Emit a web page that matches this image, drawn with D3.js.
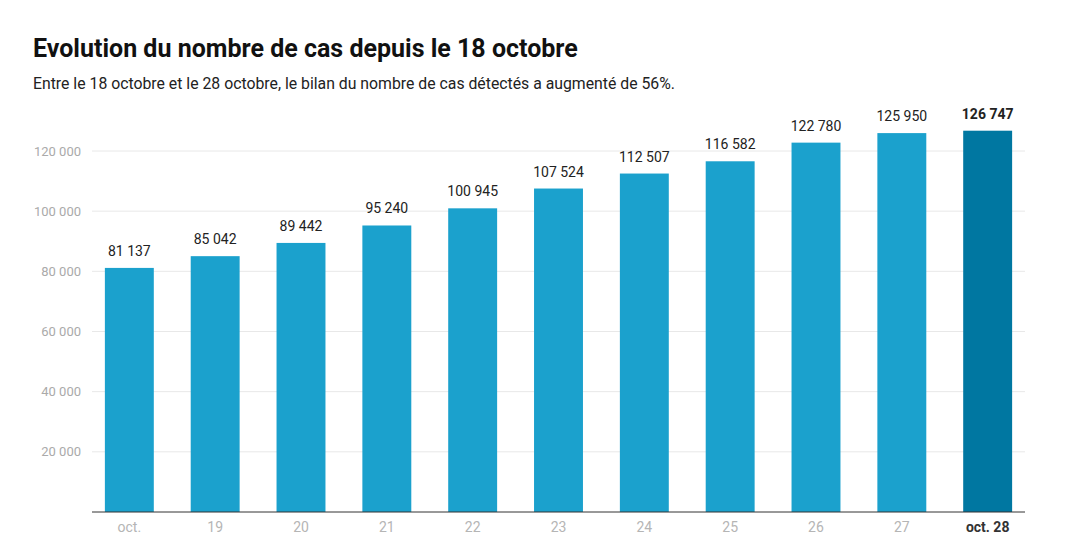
<!DOCTYPE html>
<html>
<head>
<meta charset="utf-8">
<script src="https://cdn.jsdelivr.net/npm/d3@7"></script>
<style>
  body { margin: 0; background: #fff; font-family: Roboto, sans-serif; }
  .title { font-size: 25px; font-weight: 700; fill: #111; }
  .subtitle { font-size: 15.8px; fill: #222; }
  .tick-y text { fill: #aaa; font-size: 13px; }
</style>
</head>
<body>
<div id="chart"></div>
<script>
const days = ["oct.", "19", "20", "21", "22", "23", "24", "25", "26", "27", "oct. 28"];
const cases = [81137, 85042, 89442, 95240, 100945, 107524, 112507, 116582, 122780, 125950, 126747];
const yTicks = [20000, 40000, 60000, 80000, 100000, 120000];

const width = 1072, height = 557;
const margin = {top: 120, right: 47, bottom: 45, left: 92};

const fr = d3.formatLocale({decimal: ",", thousands: " ", grouping: [3], currency: ["", " €"]});
const fmt = fr.format(",d");

const svg = d3.select("#chart").append("svg")
    .attr("width", width)
    .attr("height", height);

svg.append("text").attr("class", "title").attr("x", 33).attr("y", 57)
    .text("Evolution du nombre de cas depuis le 18 octobre");
svg.append("text").attr("class", "subtitle").attr("x", 33).attr("y", 89)
    .text("Entre le 18 octobre et le 28 octobre, le bilan du nombre de cas détectés a augmenté de 56%.");

const x = d3.scaleBand()
    .domain(days)
    .range([margin.left, width - margin.right])
    .paddingInner(0.43)
    .paddingOuter(0.15);

const y = d3.scaleLinear()
    .domain([0, 120000])
    .range([height - margin.bottom, 151]);

// gridlines + y labels
const gy = svg.append("g").selectAll("g")
    .data(yTicks)
  .join("g")
    .attr("class", "tick-y")
    .attr("transform", d => `translate(0,${y(d)})`);
gy.append("line")
    .attr("x1", margin.left).attr("x2", width - margin.right)
    .attr("stroke", "#e8e8e8");
gy.append("text")
    .attr("x", 81).attr("dy", "0.35em")
    .attr("text-anchor", "end")
    .text(d => fmt(d));

// bars
const last = days.length - 1;
svg.append("g").selectAll("rect")
    .data(cases)
  .join("rect")
    .attr("x", (d, i) => x(days[i]))
    .attr("width", x.bandwidth())
    .attr("y", d => y(d))
    .attr("height", d => y(0) - y(d))
    .attr("fill", (d, i) => i === last ? "#0077a1" : "#1ba1cd");

// value labels
svg.append("g").selectAll("text")
    .data(cases)
  .join("text")
    .attr("x", (d, i) => x(days[i]) + x.bandwidth() / 2)
    .attr("y", d => y(d) - 12)
    .attr("text-anchor", "middle")
    .attr("font-size", 14)
    .attr("font-weight", (d, i) => i === last ? 700 : 400)
    .attr("fill", "#222")
    .text(d => fmt(d));

// x axis
svg.append("line")
    .attr("x1", margin.left).attr("x2", width - margin.right)
    .attr("y1", y(0)).attr("y2", y(0))
    .attr("stroke", "#333");

svg.append("g").selectAll("text")
    .data(days)
  .join("text")
    .attr("x", d => x(d) + x.bandwidth() / 2)
    .attr("y", y(0) + 20)
    .attr("text-anchor", "middle")
    .attr("font-size", 14)
    .attr("font-weight", (d, i) => i === last ? 700 : 400)
    .attr("fill", (d, i) => i === last ? "#333" : "#b5b5b5")
    .text(d => d);
</script>
</body>
</html>
